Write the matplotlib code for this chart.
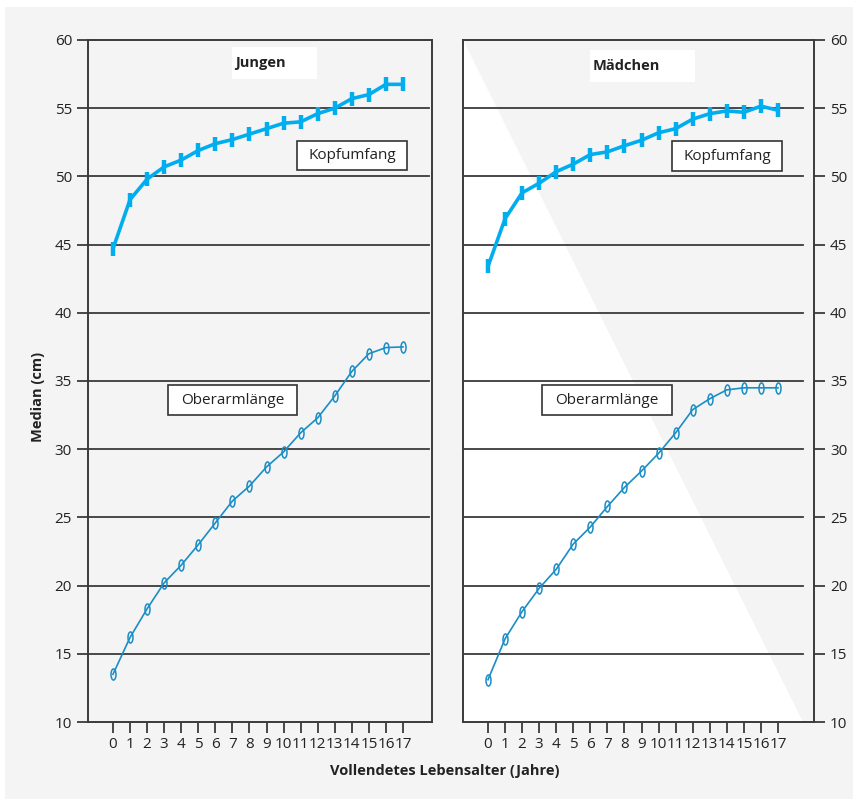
import matplotlib
matplotlib.use('Agg')
import matplotlib.pyplot as plt
from matplotlib.patches import Rectangle, Polygon
from matplotlib.path import Path
from matplotlib.transforms import Affine2D

plt.rcParams['font.family'] = ['Open Sans', 'DejaVu Sans']

# Alter in vollendeten Jahren
alter = list(range(18))

# Jungen
kopf_jungen = [44.7, 48.3, 49.8, 50.7, 51.2, 51.9, 52.4, 52.7, 53.1, 53.5,
               53.9, 54.0, 54.6, 55.0, 55.7, 56.0, 56.75, 56.75]
arm_jungen = [13.5, 16.2, 18.3, 20.2, 21.5, 23.0, 24.6, 26.2, 27.3, 28.7,
              29.8, 31.2, 32.3, 33.9, 35.7, 37.0, 37.45, 37.5]

# Mädchen
kopf_maedchen = [43.4, 46.9, 48.8, 49.5, 50.35, 50.9, 51.6, 51.8, 52.25, 52.65,
                 53.2, 53.5, 54.2, 54.6, 54.8, 54.7, 55.15, 54.85]
arm_maedchen = [13.1, 16.1, 18.1, 19.8, 21.2, 23.05, 24.3, 25.8, 27.2, 28.4,
                29.7, 31.2, 32.9, 33.7, 34.35, 34.5, 34.5, 34.5]

W, H = 854, 799
kopf_col = '#00aeef'
arm_col = '#1a8dc6'
grid_col = '#3a3a3a'
bg = '#f4f4f4'

ell = Path.unit_circle().transformed(Affine2D().scale(0.45, 1.0))

fig = plt.figure(figsize=(W / 100, H / 100), dpi=100)
fig.patch.set_facecolor('white')
fig.add_artist(Rectangle((5 / W, 0), 1, 1 - 7 / H, transform=fig.transFigure,
                         fc=bg, ec='none', zorder=-10))


def px(x0, y0, x1, y1):
    # Pixel-Box -> Figurenkoordinaten
    return x0 / W, 1 - y1 / H, (x1 - x0) / W, (y1 - y0) / H


ax1 = fig.add_axes(px(88, 40, 432, 722))
ax2 = fig.add_axes(px(463, 40, 814, 722))

xlims = [(-1.465, 18.70), (-1.465, 19.11)]
grid_xmax = [0.99, (803 - 463) / (814 - 463)]

for i, (ax, kopf, arm) in enumerate([(ax1, kopf_jungen, arm_jungen),
                                    (ax2, kopf_maedchen, arm_maedchen)]):
    ax.set_facecolor(bg)
    ax.set_xlim(*xlims[i])
    ax.set_ylim(10, 60)
    for y in range(15, 60, 5):
        ax.axhline(y, xmin=0, xmax=grid_xmax[i], color=grid_col, lw=1.3, zorder=1)
    if i == 1:
        ax.add_patch(Polygon([(0, 1), (grid_xmax[i], 0), (0, 0)], closed=True,
                             transform=ax.transAxes, fc='white', ec='none', zorder=0))
    ax.plot(alter, kopf, color=kopf_col, lw=2.6, marker='|', ms=10, mew=3.2, zorder=3)
    ax.plot(alter, arm, color=arm_col, lw=1.2, marker=ell, ms=8, mew=1.1,
            mfc='none', mec=arm_col, zorder=3)
    for s in ax.spines.values():
        s.set_color(grid_col)
        s.set_linewidth(1.4)
    ax.set_xticks(alter)
    ax.set_xticklabels([str(a) for a in alter], fontsize=11, color='#222222')
    ax.set_yticks(range(10, 61, 5))
    ax.tick_params(axis='x', length=8, width=1.3, color=grid_col, pad=3)
    ax.tick_params(axis='y', length=8, width=1.3, color=grid_col, pad=3.5,
                   labelsize=11, labelcolor='#222222')

ax2.yaxis.tick_right()
ax2.tick_params(axis='y', left=False, labelleft=False, right=True, labelright=True)


def label_box(x0, y0, x1, y1, text, bold=False, border=True, ha='center'):
    x, y, w, h = px(x0, y0, x1, y1)
    fig.add_artist(Rectangle((x, y), w, h, transform=fig.transFigure, fc='white',
                             ec='#333333' if border else 'none', lw=1.2, zorder=5))
    tx = x + w / 2 if ha == 'center' else x + 3 / W
    fig.text(tx, y + h / 2, text, ha=ha, va='center', fontsize=11 if not bold else 10.5,
             fontweight='bold' if bold else 'normal', color='#222222', zorder=6)


label_box(232, 47, 317, 79, 'Jungen', bold=True, border=False, ha='left')
label_box(590, 50, 695, 82, 'Mädchen', bold=True, border=False, ha='left')
label_box(297, 141, 407, 170, 'Kopfumfang')
label_box(672, 141, 782, 171, 'Kopfumfang')
label_box(168, 385, 297, 415, 'Oberarmlänge')
label_box(542, 385, 672, 415, 'Oberarmlänge')

fig.text(38 / W, 1 - 397 / H, 'Median (cm)', rotation=90, ha='center', va='center',
         fontsize=10.5, fontweight='bold', color='#222222')
fig.text(445 / W, 1 - 771 / H, 'Vollendetes Lebensalter (Jahre)', ha='center',
         va='center', fontsize=10.5, fontweight='bold', color='#222222')

fig.savefig('out.png', dpi=100, facecolor=fig.get_facecolor())
